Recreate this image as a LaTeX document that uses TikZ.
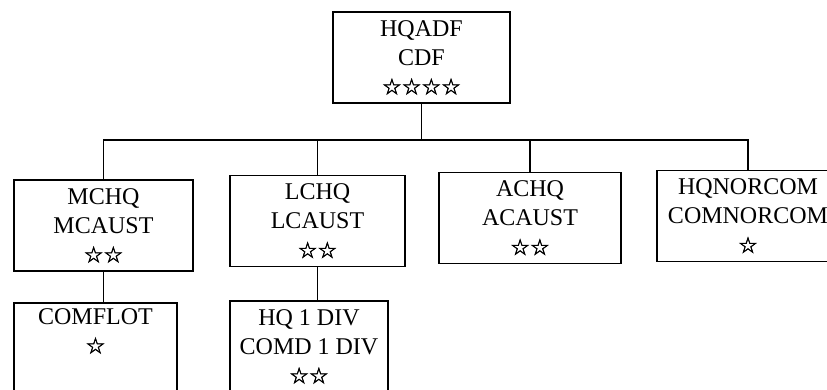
\documentclass[tikz,border=0pt]{standalone}
\usepackage{fontspec}
\setmainfont{Liberation Serif}
\newfontfamily\starfont[FakeBold=2]{DejaVu Sans}
\usepackage{tikz}
\def\rk#1{{\starfont\fontsize{22}{28}\selectfont #1}}

\tikzset{
  post/.style={draw,line width=1.6pt,align=center,inner sep=0pt,
    minimum height=91pt,font=\fontsize{24}{29}\selectfont},
  link/.style={line width=1.6pt}
}

\begin{document}
\begin{tikzpicture}[x=1pt,y=-1pt]
  \clip (0,0) rectangle (827,390);
  % top
  \node[post,minimum width=177pt] (hqadf) at (421.5,57.5) {HQADF\\CDF\\\rk{☆☆☆☆}};
  % second level
  \node[post,minimum width=179pt] (mchq) at (103.5,225.5) {MCHQ\\MCAUST\\\rk{☆☆}};
  \node[post,minimum width=175pt] (lchq) at (317.5,221) {LCHQ\\LCAUST\\\rk{☆☆}};
  \node[post,minimum width=182pt] (achq) at (530,218) {ACHQ\\ACAUST\\\rk{☆☆}};
  \node[post,minimum width=182pt] (norcom) at (748,216) {HQNORCOM\\COMNORCOM\\\rk{☆}};
  % third level
  \node[post,minimum width=163pt,text depth=35pt] (comflot) at (95.5,348.5) {COMFLOT\\\rk{☆}};
  \node[post,minimum width=158pt] (hqdiv) at (309,346.5) {HQ 1 DIV\\COMD 1 DIV\\\rk{☆☆}};
  % lines
  \coordinate (bus) at (421.5,140);
  \draw[link] (hqadf) -- (bus);
  \draw[link] (mchq.north) |- (bus);
  \draw[link] (lchq.north) |- (bus);
  \draw[link] (achq.north) |- (bus);
  \draw[link] (norcom.north) |- (bus);
  \draw[link] (mchq.south) -- (mchq.south |- comflot.north);
  \draw[link] (lchq.south) -- (lchq.south |- hqdiv.north);
\end{tikzpicture}
\end{document}
